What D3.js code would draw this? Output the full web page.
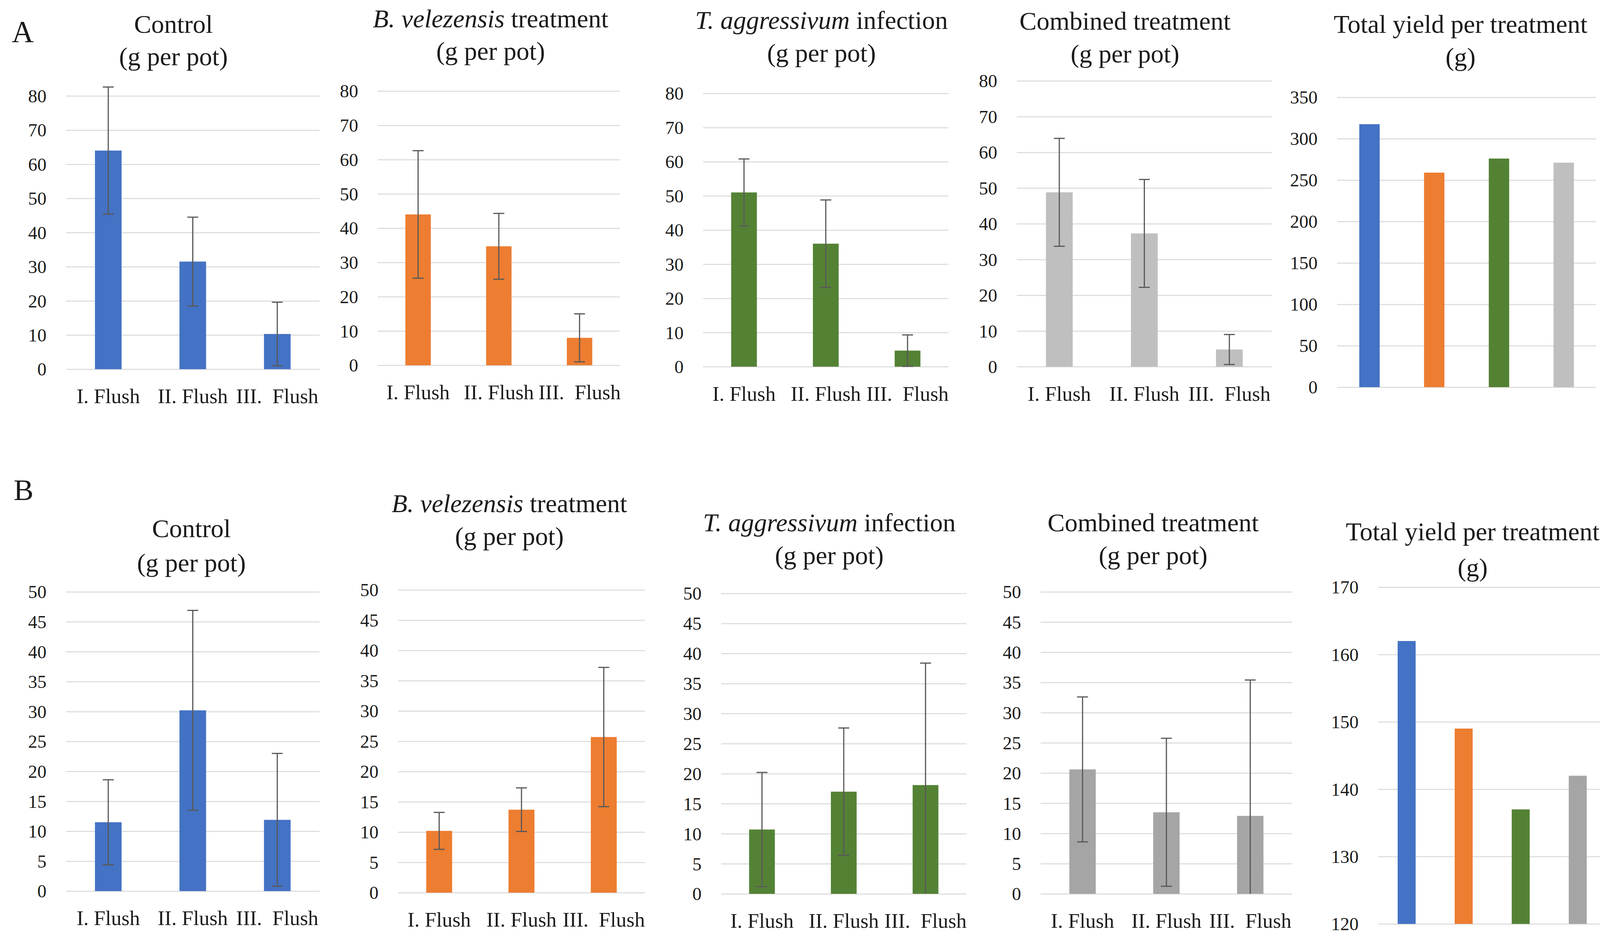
<!DOCTYPE html>
<html>
<head>
<meta charset="utf-8">
<script src="https://cdn.jsdelivr.net/npm/d3@7"></script>
<style>
  body { margin: 0; background: #fff; }
  svg text { font-family: "Liberation Serif", "Times New Roman", serif; }
</style>
</head>
<body>
<svg id="chart" width="4130" height="2396"></svg>
<script>
// ---- data ----
var flushes = ["I. Flush", "II. Flush", "III.  Flush"]
var treatments = ["Control", "B. velezensis", "T. aggressivum", "Combined"]

// experiment A (g per pot), mean and error bar half-length
var controlA = [64.0, 31.5, 10.3]
var controlAErr = [18.6, 13.0, 9.3]
var velezensisA = [44.0, 34.7, 8.0]
var velezensisAErr = [18.6, 9.6, 7.0]
var aggressivumA = [51.0, 36.0, 4.7]
var aggressivumAErr = [9.8, 12.8, 4.6]
var combinedA = [48.8, 37.3, 4.8]
var combinedAErr = [15.1, 15.1, 4.2]
var totalA = [317.5, 259, 276, 271]

// experiment B
var controlB = [11.5, 30.2, 11.9]
var controlBErr = [7.1, 16.7, 11.1]
var velezensisB = [10.2, 13.7, 25.7]
var velezensisBErr = [3.05, 3.6, 11.5]
var aggressivumB = [10.7, 17.0, 18.1]
var aggressivumBErr = [9.5, 10.6, 20.3]
var combinedB = [20.6, 13.5, 12.9]
var combinedBErr = [12.0, 12.25, 22.5]
var totalB = [162, 149, 137, 142]

// tick labels
var ticksA = [0, 10, 20, 30, 40, 50, 60, 70, 80]
var ticksATotal = [0, 50, 100, 150, 200, 250, 300, 350]
var ticksB = [0, 5, 10, 15, 20, 25, 30, 35, 40, 45, 50]
var ticksBTotal = [120, 130, 140, 150, 160, 170]

var blue = "#4472C4", orange = "#ED7D31", green = "#548235"
var greyA = "#BFBFBF", greyB = "#A5A5A5"

var gPerPot = [{t: "(g per pot)"}]
var titleControl = [[{t: "Control"}], gPerPot]
var titleVel = [[{t: "B. velezensis", i: true}, {t: " treatment"}], gPerPot]
var titleAgg = [[{t: "T. aggressivum", i: true}, {t: " infection"}], gPerPot]
var titleComb = [[{t: "Combined treatment"}], gPerPot]
var titleTotal = [[{t: "Total yield per treatment"}], [{t: "(g)"}]]

var panels = [
  // row A
  {cats: flushes, vals: controlA, err: controlAErr, color: blue, ticks: ticksA, title: titleControl,
   x0: 169, x1: 818, yTop: 245.5, yBottom: 945, tx: 444, ty: [84, 167]},
  {cats: flushes, vals: velezensisA, err: velezensisAErr, color: orange, ticks: ticksA, title: titleVel,
   x0: 967, x1: 1587, yTop: 233, yBottom: 935, tx: 1256, ty: [70, 153]},
  {cats: flushes, vals: aggressivumA, err: aggressivumAErr, color: green, ticks: ticksA, title: titleAgg,
   x0: 1800, x1: 2428, yTop: 239, yBottom: 938.6, tx: 2103, ty: [74, 158]},
  {cats: flushes, vals: combinedA, err: combinedAErr, color: greyA, ticks: ticksA, title: titleComb,
   x0: 2603, x1: 3256, yTop: 207, yBottom: 938.6, tx: 2880, ty: [76, 160]},
  {cats: treatments, vals: totalA, colors: [blue, orange, green, greyA], ticks: ticksATotal, title: titleTotal,
   x0: 3423, x1: 4086, yTop: 249, yBottom: 991, tx: 3739, ty: [84, 168]},
  // row B
  {cats: flushes, vals: controlB, err: controlBErr, color: blue, ticks: ticksB, title: titleControl,
   x0: 169, x1: 818, yTop: 1515, yBottom: 2281, tx: 490, ty: [1375, 1463]},
  {cats: flushes, vals: velezensisB, err: velezensisBErr, color: orange, ticks: ticksB, title: titleVel,
   x0: 1019, x1: 1651, yTop: 1510, yBottom: 2285, tx: 1304, ty: [1311, 1395]},
  {cats: flushes, vals: aggressivumB, err: aggressivumBErr, color: green, ticks: ticksB, title: titleAgg,
   x0: 1846, x1: 2474, yTop: 1519, yBottom: 2288, tx: 2123, ty: [1360, 1444]},
  {cats: flushes, vals: combinedB, err: combinedBErr, color: greyB, ticks: ticksB, title: titleComb,
   x0: 2664, x1: 3308, yTop: 1515, yBottom: 2288, tx: 2952, ty: [1360, 1444]},
  {cats: treatments, vals: totalB, colors: [blue, orange, green, greyB], ticks: ticksBTotal, title: titleTotal,
   x0: 3528, x1: 4112, yTop: 1503, yBottom: 2365, tx: 3770, ty: [1383, 1475]}
]

var svg = d3.select("#chart")

function drawPanel(p) {
  var g = svg.append("g")
  var lo = p.ticks[0], hi = p.ticks[p.ticks.length - 1]

  var x = d3.scaleBand().domain(p.cats).range([p.x0, p.x1])
    .paddingInner(0.685).paddingOuter(0.3425)
  var y = d3.scaleLinear().domain([lo, hi]).range([p.yBottom, p.yTop])

  // gridlines + y tick labels
  var yAxis = g.append("g")
    .attr("transform", "translate(" + p.x0 + ",0)")
    .call(d3.axisLeft(y).tickValues(p.ticks).tickSize(-(p.x1 - p.x0)).tickPadding(50))
  yAxis.select(".domain").remove()
  yAxis.attr("font-family", null).attr("font-size", null)
  yAxis.selectAll(".tick line").attr("stroke", "#D9D9D9").attr("stroke-width", 2.5)
  yAxis.selectAll(".tick text")
    .attr("fill", "#1a1a1a")
    .style("font-size", "47px")
    .attr("dy", "0.34em")

  // bars
  g.selectAll("rect.bar").data(p.vals).enter().append("rect")
    .attr("class", "bar")
    .attr("x", function(d, i) { return x(p.cats[i]) })
    .attr("width", x.bandwidth())
    .attr("y", function(d) { return y(d) })
    .attr("height", function(d) { return y(lo) - y(d) })
    .attr("fill", function(d, i) { return p.colors ? p.colors[i] : p.color })

  // error bars
  if (p.err) {
    var cap = 14
    p.vals.forEach(function(v, i) {
      var cx = x(p.cats[i]) + x.bandwidth() / 2
      var top = v + p.err[i], bot = v - p.err[i]
      var clipped = bot < lo
      if (clipped) bot = lo
      var eg = g.append("g").attr("stroke", "#595959").attr("stroke-width", 3)
      eg.append("line").attr("x1", cx).attr("x2", cx).attr("y1", y(top)).attr("y2", y(bot))
      eg.append("line").attr("x1", cx - cap).attr("x2", cx + cap).attr("y1", y(top)).attr("y2", y(top))
      if (!clipped) {
        eg.append("line").attr("x1", cx - cap).attr("x2", cx + cap).attr("y1", y(bot)).attr("y2", y(bot))
      }
    })

    // category labels
    var xAxis = g.append("g")
      .attr("transform", "translate(0," + p.yBottom + ")")
      .call(d3.axisBottom(x).tickSize(0).tickPadding(49.5))
    xAxis.select(".domain").remove()
    xAxis.attr("font-family", null).attr("font-size", null)
    xAxis.selectAll(".tick text")
      .attr("fill", "#1a1a1a")
      .style("font-size", "53px")
      .style("white-space", "pre")
  }

  // title, two lines
  p.title.forEach(function(line, li) {
    var t = g.append("text")
      .attr("x", p.tx).attr("y", p.ty[li])
      .attr("text-anchor", "middle")
      .style("font-size", "66px")
      .attr("fill", "#1a1a1a")
      .style("white-space", "pre")
    line.forEach(function(part) {
      t.append("tspan").text(part.t).style("font-style", part.i ? "italic" : "normal")
    })
  })
}

panels.forEach(drawPanel)

// panel letters
svg.append("text").attr("x", 30).attr("y", 107).style("font-size", "78px").attr("fill", "#1a1a1a").text("A")
svg.append("text").attr("x", 35).attr("y", 1280).style("font-size", "76px").attr("fill", "#1a1a1a").text("B")
</script>
</body>
</html>
